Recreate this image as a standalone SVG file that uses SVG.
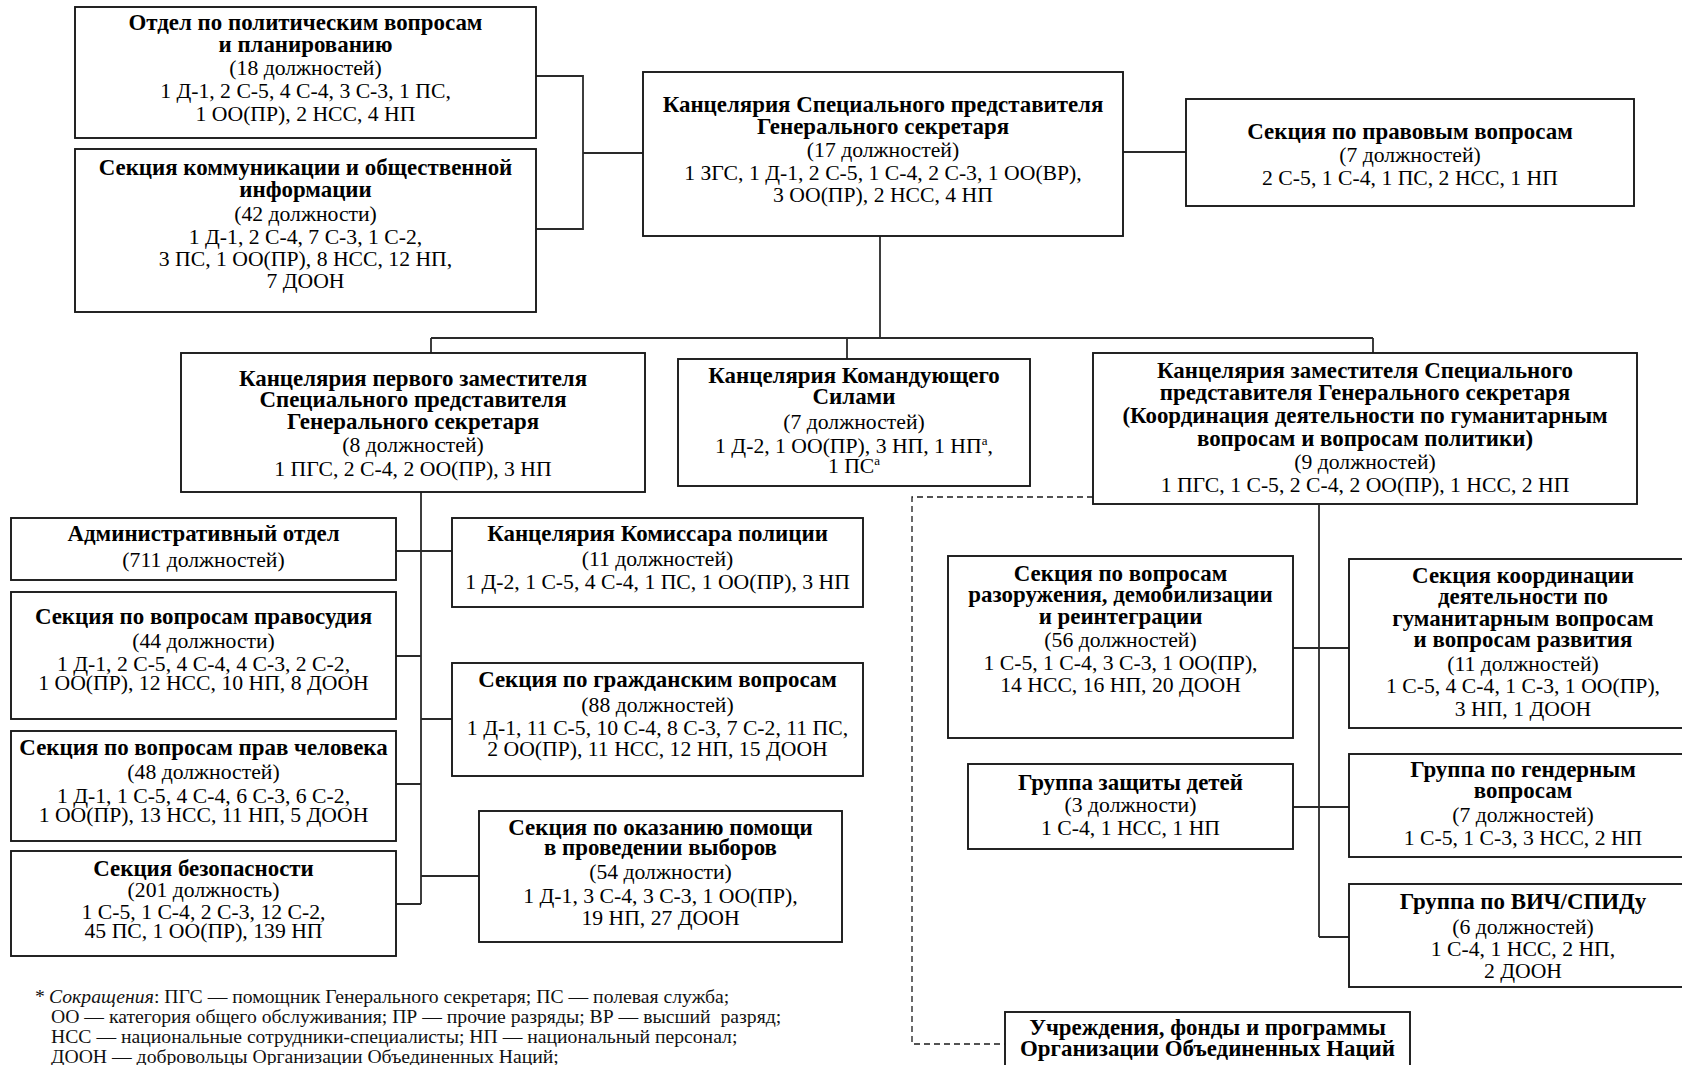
<svg xmlns="http://www.w3.org/2000/svg" width="1682" height="1065" viewBox="0 0 1682 1065">
<style>
  .box { fill: #fff; stroke: #1a1a1a; stroke-width: 1.9; }
  .t { font-family: "Liberation Serif", "Times New Roman", serif; font-size: 21.7px; fill: #000; text-anchor: middle; }
  .b { font-weight: bold; font-size: 22.9px; }
  .sup { font-size: 13px; }
  .conn { fill: none; stroke: #2a2a2a; stroke-width: 1.8; }
  .dash { fill: none; stroke: #1a1a1a; stroke-width: 1.3; stroke-dasharray: 6 4; }
  .fn { font-family: "Liberation Serif", "Times New Roman", serif; font-size: 19.7px; fill: #111; }
</style>
<rect width="1682" height="1065" fill="#fff"/>

<g id="connectors">
  <path class="conn" d="M536,76 H583 V229 H536 M583,153 H643"/>
  <path class="conn" d="M1123,152 H1186"/>
  <path class="conn" d="M880,236 V338 M431,338 H1373 M431,338 V353 M847,338 V359 M1373,338 V353"/>
  <path class="conn" d="M421,492 V904 M396,551 H452 M396,656 H421 M421,719 H452 M396,784 H421 M421,876 H479 M396,904 H421"/>
  <path class="conn" d="M1319,505 V937 M1293,648 H1349 M1293,807 H1349 M1319,937 H1349"/>
  <path class="dash" d="M1093,497 H912 V1044 H1005"/>
</g>

<g id="node-politics">
  <rect class="box" x="75" y="7" width="461" height="131"/>
  <text class="t b" x="305.5" y="30">Отдел по политическим вопросам</text>
  <text class="t b" x="305.5" y="52">и планированию</text>
  <text class="t" x="305.5" y="75">(18 должностей)</text>
  <text class="t" x="305.5" y="98">1 Д-1, 2 С-5, 4 С-4, 3 С-3, 1 ПС,</text>
  <text class="t" x="305.5" y="121">1 ОО(ПР), 2 НСС, 4 НП</text>
</g>

<g id="node-communication">
  <rect class="box" x="75" y="149" width="461" height="163"/>
  <text class="t b" x="305.5" y="175">Секция коммуникации и общественной</text>
  <text class="t b" x="305.5" y="197">информации</text>
  <text class="t" x="305.5" y="221">(42 должности)</text>
  <text class="t" x="305.5" y="244">1 Д-1, 2 С-4, 7 С-3, 1 С-2,</text>
  <text class="t" x="305.5" y="266">3 ПС, 1 ОО(ПР), 8 НСС, 12 НП,</text>
  <text class="t" x="305.5" y="288">7 ДООН</text>
</g>

<g id="node-srsg">
  <rect class="box" x="643" y="72" width="480" height="164"/>
  <text class="t b" x="883" y="112">Канцелярия Специального представителя</text>
  <text class="t b" x="883" y="134">Генерального секретаря</text>
  <text class="t" x="883" y="157">(17 должностей)</text>
  <text class="t" x="883" y="180">1 ЗГС, 1 Д-1, 2 С-5, 1 С-4, 2 С-3, 1 ОО(ВР),</text>
  <text class="t" x="883" y="202">3 ОО(ПР), 2 НСС, 4 НП</text>
</g>

<g id="node-legal">
  <rect class="box" x="1186" y="99" width="448" height="107"/>
  <text class="t b" x="1410" y="139">Секция по правовым вопросам</text>
  <text class="t" x="1410" y="162">(7 должностей)</text>
  <text class="t" x="1410" y="185">2 С-5, 1 С-4, 1 ПС, 2 НСС, 1 НП</text>
</g>

<g id="node-first-deputy">
  <rect class="box" x="181" y="353" width="464" height="139"/>
  <text class="t b" x="413" y="386">Канцелярия первого заместителя</text>
  <text class="t b" x="413" y="407">Специального представителя</text>
  <text class="t b" x="413" y="429">Генерального секретаря</text>
  <text class="t" x="413" y="452">(8 должностей)</text>
  <text class="t" x="413" y="476">1 ПГС, 2 С-4, 2 ОО(ПР), 3 НП</text>
</g>

<g id="node-force">
  <rect class="box" x="678" y="359" width="352" height="127"/>
  <text class="t b" x="854" y="383">Канцелярия Командующего</text>
  <text class="t b" x="854" y="404">Силами</text>
  <text class="t" x="854" y="429">(7 должностей)</text>
  <text class="t" x="854" y="453">1 Д-2, 1 ОО(ПР), 3 НП, 1 НП<tspan class="sup" dy="-8">а</tspan><tspan dy="8">,</tspan></text>
  <text class="t" x="854" y="473">1 ПС<tspan class="sup" dy="-8">а</tspan></text>
</g>

<g id="node-deputy-humanitarian">
  <rect class="box" x="1093" y="353" width="544" height="151"/>
  <text class="t b" x="1365" y="378">Канцелярия заместителя Специального</text>
  <text class="t b" x="1365" y="400">представителя Генерального секретаря</text>
  <text class="t b" x="1365" y="423">(Координация деятельности по гуманитарным</text>
  <text class="t b" x="1365" y="446">вопросам и вопросам политики)</text>
  <text class="t" x="1365" y="469">(9 должностей)</text>
  <text class="t" x="1365" y="492">1 ПГС, 1 С-5, 2 С-4, 2 ОО(ПР), 1 НСС, 2 НП</text>
</g>

<g id="node-admin">
  <rect class="box" x="11" y="518" width="385" height="62"/>
  <text class="t b" x="203.5" y="541">Административный отдел</text>
  <text class="t" x="203.5" y="567">(711 должностей)</text>
</g>

<g id="node-police">
  <rect class="box" x="452" y="518" width="411" height="89"/>
  <text class="t b" x="657.5" y="541">Канцелярия Комиссара полиции</text>
  <text class="t" x="657.5" y="566">(11 должностей)</text>
  <text class="t" x="657.5" y="589">1 Д-2, 1 С-5, 4 С-4, 1 ПС, 1 ОО(ПР), 3 НП</text>
</g>

<g id="node-justice">
  <rect class="box" x="11" y="592" width="385" height="127"/>
  <text class="t b" x="203.5" y="624">Секция по вопросам правосудия</text>
  <text class="t" x="203.5" y="648">(44 должности)</text>
  <text class="t" x="203.5" y="671">1 Д-1, 2 С-5, 4 С-4, 4 С-3, 2 С-2,</text>
  <text class="t" x="203.5" y="690">1 ОО(ПР), 12 НСС, 10 НП, 8 ДООН</text>
</g>

<g id="node-civil">
  <rect class="box" x="452" y="663" width="411" height="113"/>
  <text class="t b" x="657.5" y="687">Секция по гражданским вопросам</text>
  <text class="t" x="657.5" y="712">(88 должностей)</text>
  <text class="t" x="657.5" y="735">1 Д-1, 11 С-5, 10 С-4, 8 С-3, 7 С-2, 11 ПС,</text>
  <text class="t" x="657.5" y="756">2 ОО(ПР), 11 НСС, 12 НП, 15 ДООН</text>
</g>

<g id="node-human-rights">
  <rect class="box" x="11" y="731" width="385" height="110"/>
  <text class="t b" x="203.5" y="755">Секция по вопросам прав человека</text>
  <text class="t" x="203.5" y="779">(48 должностей)</text>
  <text class="t" x="203.5" y="803">1 Д-1, 1 С-5, 4 С-4, 6 С-3, 6 С-2,</text>
  <text class="t" x="203.5" y="822">1 ОО(ПР), 13 НСС, 11 НП, 5 ДООН</text>
</g>

<g id="node-elections">
  <rect class="box" x="479" y="811" width="363" height="131"/>
  <text class="t b" x="660.5" y="835">Секция по оказанию помощи</text>
  <text class="t b" x="660.5" y="855">в проведении выборов</text>
  <text class="t" x="660.5" y="879">(54 должности)</text>
  <text class="t" x="660.5" y="903">1 Д-1, 3 С-4, 3 С-3, 1 ОО(ПР),</text>
  <text class="t" x="660.5" y="925">19 НП, 27 ДООН</text>
</g>

<g id="node-security">
  <rect class="box" x="11" y="851" width="385" height="105"/>
  <text class="t b" x="203.5" y="876">Секция безопасности</text>
  <text class="t" x="203.5" y="897">(201 должность)</text>
  <text class="t" x="203.5" y="919">1 С-5, 1 С-4, 2 С-3, 12 С-2,</text>
  <text class="t" x="203.5" y="938">45 ПС, 1 ОО(ПР), 139 НП</text>
</g>

<g id="node-ddr">
  <rect class="box" x="948" y="556" width="345" height="182"/>
  <text class="t b" x="1120.5" y="581">Секция по вопросам</text>
  <text class="t b" x="1120.5" y="602">разоружения, демобилизации</text>
  <text class="t b" x="1120.5" y="624">и реинтеграции</text>
  <text class="t" x="1120.5" y="647">(56 должностей)</text>
  <text class="t" x="1120.5" y="670">1 С-5, 1 С-4, 3 С-3, 1 ОО(ПР),</text>
  <text class="t" x="1120.5" y="692">14 НСС, 16 НП, 20 ДООН</text>
</g>

<g id="node-humanitarian-coord">
  <rect class="box" x="1349" y="559" width="348" height="169"/>
  <text class="t b" x="1523" y="583">Секция координации</text>
  <text class="t b" x="1523" y="604">деятельности по</text>
  <text class="t b" x="1523" y="626">гуманитарным вопросам</text>
  <text class="t b" x="1523" y="647">и вопросам развития</text>
  <text class="t" x="1523" y="671">(11 должностей)</text>
  <text class="t" x="1523" y="693">1 С-5, 4 С-4, 1 С-3, 1 ОО(ПР),</text>
  <text class="t" x="1523" y="716">3 НП, 1 ДООН</text>
</g>

<g id="node-child">
  <rect class="box" x="968" y="764" width="325" height="85"/>
  <text class="t b" x="1130.5" y="790">Группа защиты детей</text>
  <text class="t" x="1130.5" y="812">(3 должности)</text>
  <text class="t" x="1130.5" y="835">1 С-4, 1 НСС, 1 НП</text>
</g>

<g id="node-gender">
  <rect class="box" x="1349" y="754" width="348" height="103"/>
  <text class="t b" x="1523" y="777">Группа по гендерным</text>
  <text class="t b" x="1523" y="798">вопросам</text>
  <text class="t" x="1523" y="822">(7 должностей)</text>
  <text class="t" x="1523" y="845">1 С-5, 1 С-3, 3 НСС, 2 НП</text>
</g>

<g id="node-hiv">
  <rect class="box" x="1349" y="884" width="348" height="103"/>
  <text class="t b" x="1523" y="909">Группа по ВИЧ/СПИДу</text>
  <text class="t" x="1523" y="934">(6 должностей)</text>
  <text class="t" x="1523" y="956">1 С-4, 1 НСС, 2 НП,</text>
  <text class="t" x="1523" y="978">2 ДООН</text>
</g>

<g id="node-un-agencies">
  <rect class="box" x="1005" y="1012" width="405" height="70"/>
  <text class="t b" x="1207.5" y="1035">Учреждения, фонды и программы</text>
  <text class="t b" x="1207.5" y="1056">Организации Объединенных Наций</text>
</g>

<g id="footnote">
  <text class="fn" x="35" y="1003">*</text>
  <text class="fn" x="49" y="1003"><tspan font-style="italic">Сокращения</tspan>: ПГС — помощник Генерального секретаря; ПС — полевая служба;</text>
  <text class="fn" x="51" y="1023" xml:space="preserve">ОО — категория общего обслуживания; ПР — прочие разряды; ВР — высший  разряд;</text>
  <text class="fn" x="51" y="1043">НСС — национальные сотрудники-специалисты; НП — национальный персонал;</text>
  <text class="fn" x="51" y="1063">ДООН — добровольцы Организации Объединенных Наций;</text>
</g>
</svg>
